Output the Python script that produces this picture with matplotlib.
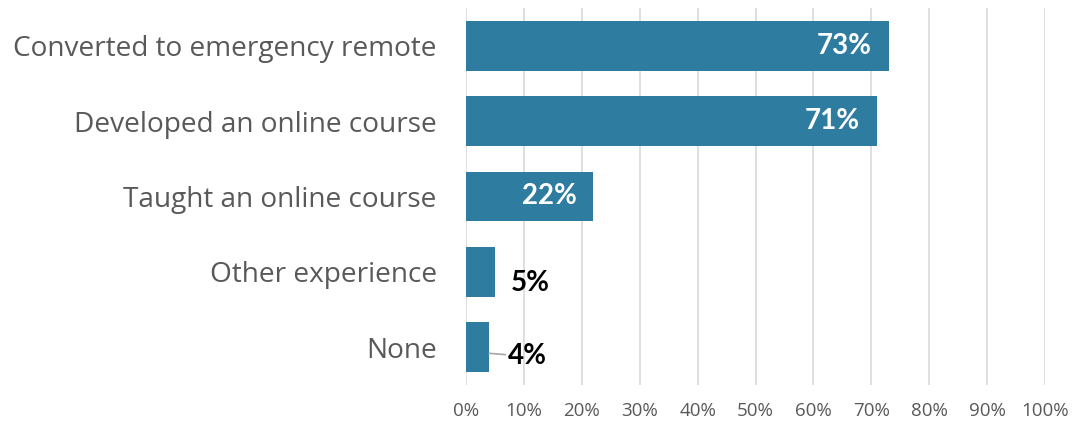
import matplotlib
matplotlib.use("Agg")
import matplotlib.pyplot as plt

categories = ["Converted to emergency remote", "Developed an online course",
              "Taught an online course", "Other experience", "None"]
values = [73, 71, 22, 5, 4]
tick_values = [0, 10, 20, 30, 40, 50, 60, 70, 80, 90, 100]
tick_labels = [f"{v}%" for v in tick_values]

plt.rcParams['font.family'] = ['Open Sans', 'DejaVu Sans']

fig = plt.figure(figsize=(10.78, 4.3), dpi=100)
ax = fig.add_axes([0.4323, 0.1047, 0.9694 - 0.4323, 0.9814 - 0.1047])

bar_color = "#2E7CA0"
ypos = list(range(len(categories)))
ax.barh(ypos, values, height=0.66, color=bar_color, zorder=3)
ax.set_ylim(len(categories) - 0.5, -0.5)
ax.set_xlim(0, 100)
ax.set_xticks(tick_values)
ax.set_xticklabels(tick_labels, fontsize=13.5, color="#595959")
ax.set_yticks(ypos)
ax.set_yticklabels(categories, fontsize=20.2, color="#595959")
ax.tick_params(axis='y', length=0, pad=21)
ax.tick_params(axis='x', length=0, pad=12)
ax.grid(axis='x', color="#D9D9D9", linewidth=1.2, zorder=0)
for s in ax.spines.values():
    s.set_visible(False)

lab_font = ['Lato', 'DejaVu Sans']
# offsets (points) for labels placed outside short bars
outside_offsets = {3: (11.5, -3.6), 4: (13.7, -2.2)}
for i, v in enumerate(values):
    if v > 15:
        ax.text(v - 2.9, i, f"{v}%", ha='right', va='center', color='white',
                fontsize=20, fontweight='bold', family=lab_font, zorder=4)
    else:
        ax.annotate(f"{v}%", xy=(v, i + 0.08), xytext=outside_offsets[i],
                    textcoords='offset points',
                    ha='left', va='center', color='black', fontsize=20, fontweight='bold',
                    family=lab_font, zorder=4,
                    arrowprops=dict(arrowstyle='-', color='#A6A6A6', lw=1.2,
                                    shrinkA=0, shrinkB=0) if v < 5 else None)

fig.savefig("out.png", dpi=100)
